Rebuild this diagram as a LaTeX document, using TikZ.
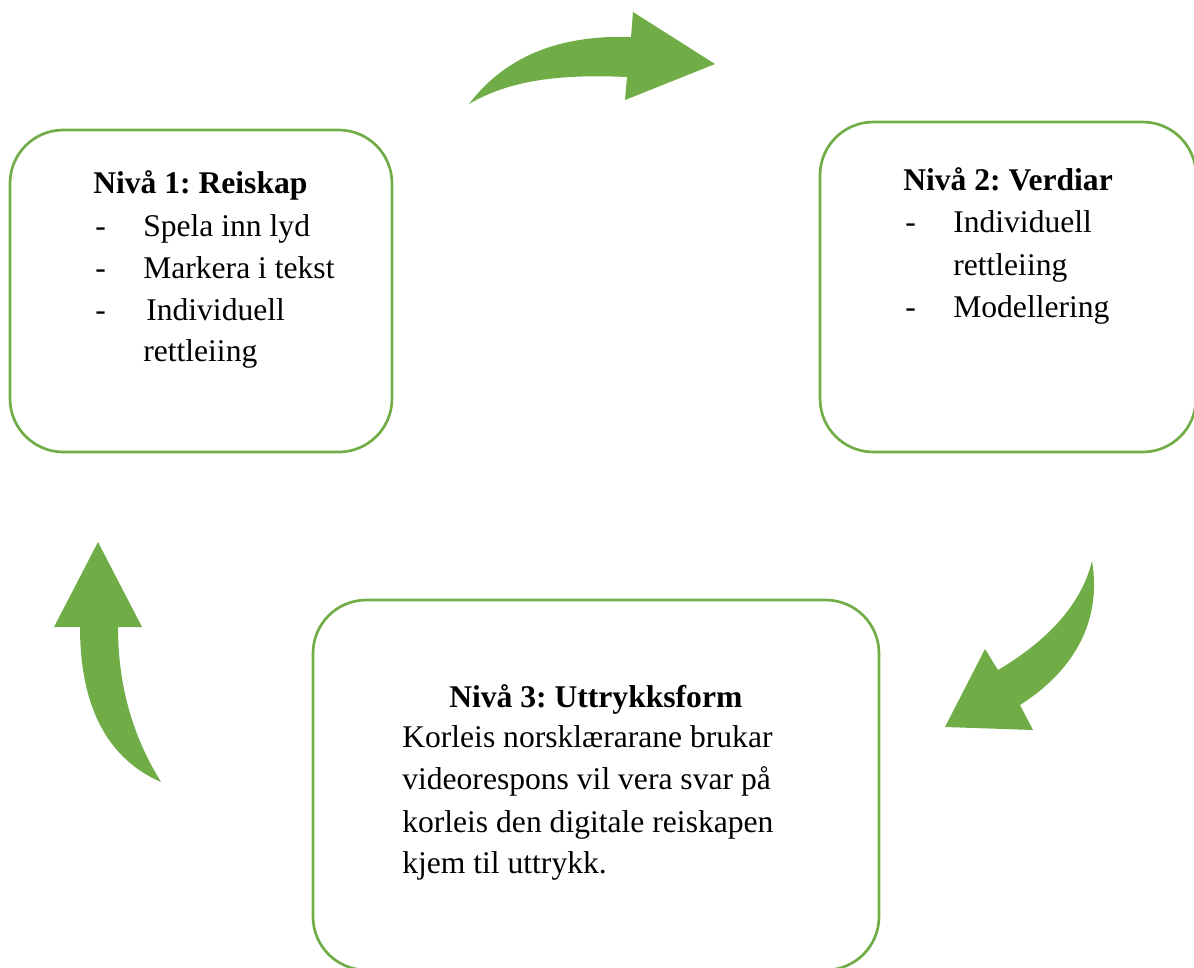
\documentclass[tikz,border=0pt]{standalone}
\usepackage{fontspec}
\setmainfont{Liberation Serif}
\frenchspacing
\definecolor{grn}{HTML}{70AD47}
\tikzset{
  box/.style={draw=grn, line width=2pt, rounded corners=40pt, inner sep=0pt, fill=none},
  txt/.style={anchor=base west, inner sep=0pt, font=\fontsize{23.7pt}{32pt}\selectfont},
  ttl/.style={txt, font=\fontsize{23.7pt}{32pt}\selectfont\bfseries},
  blockarrow/.style={fill=grn, draw=none}
}
\begin{document}
\begin{tikzpicture}[x=0.75pt,y=-0.75pt]
\useasboundingbox (0,0) rectangle (1194,967);
\clip (0,0) rectangle (1194,967);
% boxes
\node[box, minimum width=286.5pt, minimum height=241.5pt] (b1) at (201,291) {};
\node[box, minimum width=282pt, minimum height=247.5pt] (b2) at (1008,287) {};
\node[box, minimum width=424.5pt, minimum height=277.5pt] (b3) at (596,785) {};
% box 1 text
\node[ttl] (t1) at (93,193) {\frenchspacing Nivå 1: Reiskap};
\node[txt] (d11) at (95,236) {-};
\node[txt] (i11) at (143,236) {Spela inn lyd};
\node[txt] (d12) at (95,278) {-};
\node[txt] (i12) at (143,278) {Markera i tekst};
\node[txt] (d13) at (95,320) {-};
\node[txt] (i13) at (146,320) {Individuell};
\node[txt] (i14) at (143,361) {rettleiing};
% box 2 text
\node[ttl] (t2) at (903,190) {\frenchspacing Nivå 2: Verdiar};
\node[txt] (d21) at (905,232) {-};
\node[txt] (i21) at (953,232) {Individuell};
\node[txt] (i22) at (953,275) {rettleiing};
\node[txt] (d22) at (905,317) {-};
\node[txt] (i23) at (953,317) {Modellering};
% box 3 text
\node[ttl] (t3) at (449,707) {\frenchspacing Nivå 3: Uttrykksform};
\node[txt] (l31) at (402,747) {Korleis norsklærarane brukar};
\node[txt] (l32) at (402,789) {videorespons vil vera svar på};
\node[txt] (l33) at (402,832) {korleis den digitale reiskapen};
\node[txt] (l34) at (402,873) {kjem til uttrykk.};
% arrow top (box1 -> box2)
\fill[blockarrow] (469,104) .. controls (510,50) and (570,35) .. (631,37)
  -- (633,12) -- (715,64) -- (625,100) -- (627,77)
  .. controls (560,74) and (510,80) .. (469,104) -- cycle;
% arrow right (box2 -> box3)
\fill[blockarrow] (1092,561) .. controls (1102,620) and (1075,670) .. (1020,705)
  -- (1033,730) -- (945,727) -- (985,649) -- (998,670)
  .. controls (1040,645) and (1080,610) .. (1092,561) -- cycle;
% arrow left (box3 -> box1)
\fill[blockarrow] (161,782) .. controls (135,740) and (118,690) .. (118,627)
  -- (142,627) -- (98,542) -- (54,627) -- (80,627)
  .. controls (80,710) and (110,760) .. (161,782) -- cycle;
\end{tikzpicture}
\end{document}
